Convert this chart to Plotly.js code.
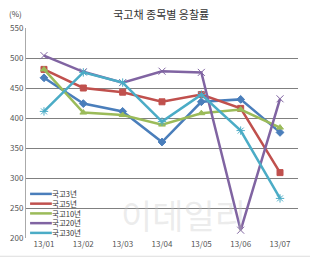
<!DOCTYPE html>
<html><head><meta charset="utf-8">
<script src="https://cdn.plot.ly/plotly-3.0.1.min.js"></script>
<style>html,body{margin:0;padding:0;background:#fff;}#c{width:310px;height:257px;}</style>
</head><body><div id="c"></div>
<script>
const months = ['13/01','13/02','13/03','13/04','13/05','13/06','13/07'];
const names = ['국고3년','국고5년','국고10년','국고20년','국고30년'];
const y3 = [467, 424, 411, 360, 427, 431, 376];
const y5 = [481, 450, 443, 427, 439, 416, 309];
const y10 = [481, 409, 405, 389, 408, 414, 384];
const y20 = [504, 477, 459, 478, 476, 213, 432];
const y30 = [411, 476, 459, 394, 439, 379, 266];
const colors = ['#4A7EBB','#C0504D','#9BBB59','#8064A2','#4BACC6'];
const symbols = ['diamond','square','triangle-up','x-thin-open','asterisk-open'];
const series = [y3,y5,y10,y20,y30];

const traces = series.map((ys,i)=>({
  x: months, y: ys, type:'scatter', mode:'lines+markers', name: names[i],
  line:{color:colors[i], width:2.5},
  marker:{symbol:symbols[i], size: (i>=3?7:6), color:colors[i], line:{color:colors[i], width:1}},
  showlegend:false, hoverinfo:'skip'
}));

const T = 28, B = 238;
const shapes = [], annotations = [];
const fs = 7.5, gap = fs*1.3, mid = 213.4;
names.forEach((n,i)=>{
  const py = (B - (mid + (i-2)*gap))/(B-T);
  shapes.push({type:'line', xref:'paper', yref:'paper', x0:0.015, x1:0.095, y0:py, y1:py,
    line:{color:colors[i], width:2.5}});
});
annotations.push({xref:'paper', yref:'paper', x:0.093, y:(B-mid)/(B-T), xanchor:'left', yanchor:'middle',
  align:'left', text:names.join('<br>'), showarrow:false, borderpad:0,
  font:{family:'Noto Sans CJK KR, sans-serif', size:fs, color:'#333'}});
annotations.push({xref:'paper', yref:'paper', x:-0.04, y:1.07, xanchor:'center', yanchor:'middle',
  text:'(%)', showarrow:false, font:{family:'Noto Sans CJK KR, sans-serif', size:8, color:'#444'}});
annotations.push({xref:'paper', yref:'paper', x:0.58, y:0.11, xanchor:'center', yanchor:'middle',
  text:'이데일리', showarrow:false, font:{family:'Noto Sans CJK KR, sans-serif', size:34, color:'rgba(200,200,200,0.35)'}});
shapes.push({type:'line', xref:'paper', yref:'paper', x0:-0.1, x1:1.05, y0:-0.087, y1:-0.087, line:{color:'#ddd', width:1}});

const layout = {
  width:310, height:257,
  margin:{l:26, r:12, t:T, b:257-B},
  paper_bgcolor:'#fff', plot_bgcolor:'#fff',
  title:{text:'국고채 종목별 응찰률', x:0.52, xanchor:'center', y:0.94, yanchor:'middle',
    font:{family:'Noto Sans CJK KR, sans-serif', size:11, color:'#333'}},
  xaxis:{type:'category', showgrid:false, zeroline:false, showline:false, ticks:'',
    tickfont:{family:'Noto Sans CJK KR, sans-serif', size:8, color:'#555'}, fixedrange:true},
  yaxis:{range:[200,550], dtick:50, showgrid:true, gridcolor:'#808080', gridwidth:1, zeroline:false,
    showline:true, linecolor:'#aaa', linewidth:1, ticks:'', ticklen:0,
    tickfont:{family:'Noto Sans CJK KR, sans-serif', size:8, color:'#555'}, fixedrange:true},
  shapes, annotations, showlegend:false
};
Plotly.newPlot('c', traces, layout, {displayModeBar:false, staticPlot:true});
</script></body></html>
